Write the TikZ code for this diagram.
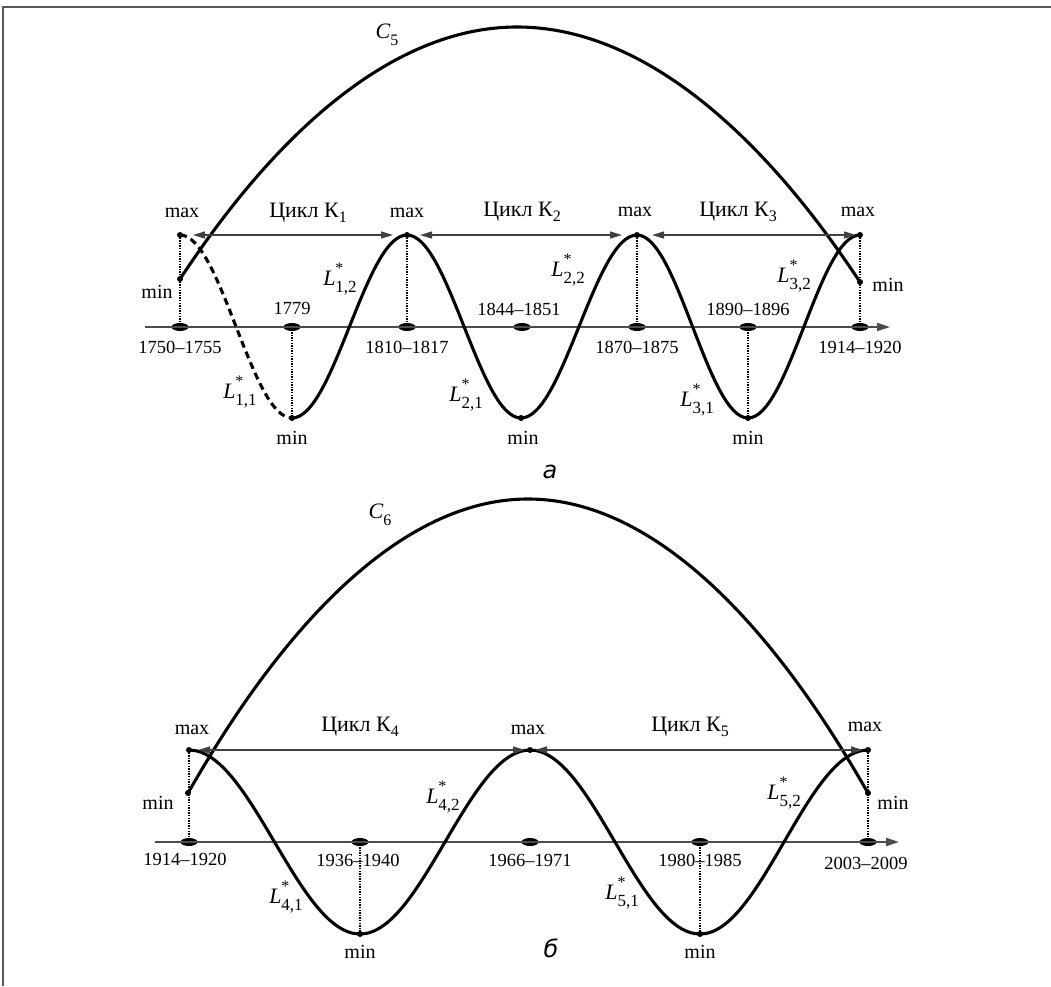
\documentclass[tikz,border=0pt]{standalone}
\usepackage{fontspec}
\setmainfont{Liberation Serif}
\newfontfamily\sansf{DejaVu Sans}
\usetikzlibrary{arrows.meta,shapes.geometric,calc}
\newcommand\Lbl[1]{\textit{L}\rlap{\raisebox{0.55em}{\fontsize{16}{16}\selectfont *}}\raisebox{-0.3em}{\fontsize{17}{17}\selectfont #1}}
\newcommand\Cyc[1]{Цикл К\raisebox{-0.25em}{\fontsize{16}{16}\selectfont #1}}
\newcommand\Cl[1]{\textit{C}\raisebox{-0.3em}{\fontsize{16}{16}\selectfont #1}}
\tikzset{
 curve/.style={line width=3.1pt, black},
 dashcurve/.style={line width=3.1pt, black, dash pattern=on 7pt off 4.5pt},
 axisline/.style={line width=1.8pt, black!70, -{Triangle[length=13pt,width=8pt]}},
 cycarrow/.style={line width=1.3pt, black!75, {Triangle[length=12pt,width=7pt]}-{Triangle[length=12pt,width=7pt]}},
 drop/.style={line width=1.3pt, black, dash pattern=on 1.3pt off 1.3pt},
 axdot/.style={ellipse, fill=black, minimum width=17pt, minimum height=8pt, inner sep=0pt},
 pt/.style={circle, fill=black, minimum size=6pt, inner sep=0pt},
 yr/.style={font=\fontsize{18.5}{20}\selectfont, inner sep=0pt},
 mm/.style={font=\fontsize{20}{22}\selectfont, inner sep=0pt},
 cyc/.style={font=\fontsize{22}{24}\selectfont, inner sep=0pt},
 lab/.style={font=\fontsize{22}{24}\selectfont, inner sep=0pt},
 panel/.style={font=\sansf\itshape\fontsize{24}{26}\selectfont, inner sep=0pt},
 frame/.style={line width=2pt, black!65},
}
\begin{document}
\begin{tikzpicture}[x=1pt,y=-1pt]
\useasboundingbox (0,0) rectangle (1051,986);
\fill[white] (0,0) rectangle (1051,986);
\draw[frame] (3,986) -- (3,7) -- (1051,7);

% ---------------- panel a ----------------
\coordinate (aM0) at (180,235);
\coordinate (aN0) at (180,279);
\coordinate (aMin1) at (292,418);
\coordinate (aM1) at (407,235);
\coordinate (aMin2) at (521,418);
\coordinate (aM2) at (637,235);
\coordinate (aMin3) at (748,418);
\coordinate (aM3) at (860,235);
\coordinate (aN3) at (860,282);
\coordinate (aTop) at (517,27);
\coordinate (aAx0) at (145,327);
\coordinate (aAx1) at (890,327);

\node[axdot] (a1750) at (180,327) {};
\node[axdot] (a1779) at (292,327) {};
\node[axdot] (a1810) at (407,327) {};
\node[axdot] (a1844) at (522,327) {};
\node[axdot] (a1870) at (637,327) {};
\node[axdot] (a1890) at (748,327) {};
\node[axdot] (a1914) at (860,327) {};

\draw[drop] (aM0) -- (a1750.center);
\draw[drop] (a1779.center) -- (aMin1);
\draw[drop] (aM1) -- (a1810.center);
\draw[drop] (aM2) -- (a1870.center);
\draw[drop] (a1890.center) -- (aMin3);
\draw[drop] (aM3) -- (a1914.center);

\draw[axisline] (aAx0) -- (aAx1);

\draw[curve] (aN0) parabola bend (aTop) (aN3);
\draw[dashcurve] (aM0) cos ($(aM0)!0.5!(aMin1)$) sin (aMin1);
\draw[curve] (aMin1) cos ($(aMin1)!0.5!(aM1)$) sin (aM1)
  cos ($(aM1)!0.5!(aMin2)$) sin (aMin2)
  cos ($(aMin2)!0.5!(aM2)$) sin (aM2)
  cos ($(aM2)!0.5!(aMin3)$) sin (aMin3)
  cos ($(aMin3)!0.5!(aM3)$) sin (aM3);

\draw[cycarrow, shorten <=13pt, shorten >=14pt] (aM0) -- (aM1);
\draw[cycarrow, shorten <=13pt, shorten >=15pt] (aM1) -- (aM2);
\draw[cycarrow, shorten <=15pt, shorten >=4pt] (aM2) -- (aM3);

\node[pt] (paM0) at (aM0) {};
\node[pt] (paN0) at (aN0) {};
\node[pt] (paMin1) at (aMin1) {};
\node[pt] (paM1) at (aM1) {};
\node[pt] (paMin2) at (aMin2) {};
\node[pt] (paM2) at (aM2) {};
\node[pt] (paMin3) at (aMin3) {};
\node[pt] (paM3) at (aM3) {};
\node[pt] (paN3) at (aN3) {};

\node[lab] (aC) at (387,35) {\Cl{5}};
\node[mm] (amx0) at (182,213) {max};
\node[mm] (amx1) at (407,213) {max};
\node[mm] (amx2) at (635,212) {max};
\node[mm] (amx3) at (858,212) {max};
\node[cyc] (ak1) at (308,213) {\Cyc{1}};
\node[cyc] (ak2) at (522,212) {\Cyc{2}};
\node[cyc] (ak3) at (738,212) {\Cyc{3}};
\node[mm] (amn0) at (157,292) {min};
\node[mm] (amn4) at (888,285) {min};
\node[mm] (amn1) at (292,438) {min};
\node[mm] (amn2) at (523,438) {min};
\node[mm] (amn3) at (748,438) {min};
\node[yr] (ay1) at (180,347) {1750–1755};
\node[yr] (ay2) at (292,308) {1779};
\node[yr] (ay3) at (407,347) {1810–1817};
\node[yr] (ay4) at (519,309) {1844–1851};
\node[yr] (ay5) at (637,347) {1870–1875};
\node[yr] (ay6) at (748,309) {1890–1896};
\node[yr] (ay7) at (860,347) {1914–1920};
\node[lab] (aL11) at (240,392) {\Lbl{1,1}};
\node[lab] (aL12) at (340,279) {\Lbl{1,2}};
\node[lab] (aL21) at (466,395) {\Lbl{2,1}};
\node[lab] (aL22) at (568,270) {\Lbl{2,2}};
\node[lab] (aL31) at (697,400) {\Lbl{3,1}};
\node[lab] (aL32) at (794,276) {\Lbl{3,2}};
\node[panel] (pa) at (550,472) {а};

% ---------------- panel b ----------------
\coordinate (bM0) at (189,750);
\coordinate (bN0) at (188,793);
\coordinate (bMin1) at (360,934);
\coordinate (bM1) at (530,750);
\coordinate (bMin2) at (700,934);
\coordinate (bM2) at (868,750);
\coordinate (bN2) at (868,793);
\coordinate (bTop) at (528,499);
\coordinate (bAx0) at (155,842);
\coordinate (bAx1) at (899,842);

\node[axdot] (b1914) at (189,842) {};
\node[axdot] (b1936) at (360,842) {};
\node[axdot] (b1966) at (530,842) {};
\node[axdot] (b1980) at (700,842) {};
\node[axdot] (b2003) at (868,842) {};

\draw[drop] (bM0) -- (b1914.center);
\draw[drop] (b1936.center) -- (bMin1);
\draw[drop] (b1980.center) -- (bMin2);
\draw[drop] (bM2) -- (b2003.center);

\draw[axisline] (bAx0) -- (bAx1);

\draw[curve] (bN0) parabola bend (bTop) (bN2);
\draw[curve] (bM0) cos ($(bM0)!0.5!(bMin1)$) sin (bMin1)
  cos ($(bMin1)!0.5!(bM1)$) sin (bM1)
  cos ($(bM1)!0.5!(bMin2)$) sin (bMin2)
  cos ($(bMin2)!0.5!(bM2)$) sin (bM2);

\draw[cycarrow, shorten <=9pt, shorten >=5pt] (bM0) -- (bM1);
\draw[cycarrow, shorten <=5pt, shorten >=5pt] (bM1) -- (bM2);

\node[pt] (pbM0) at (bM0) {};
\node[pt] (pbN0) at (bN0) {};
\node[pt] (pbMin1) at (bMin1) {};
\node[pt] (pbM1) at (bM1) {};
\node[pt] (pbMin2) at (bMin2) {};
\node[pt] (pbM2) at (bM2) {};
\node[pt] (pbN2) at (bN2) {};

\node[lab] (bC) at (380,515) {\Cl{6}};
\node[mm] (bmx0) at (192,730) {max};
\node[mm] (bmx1) at (528,730) {max};
\node[mm] (bmx2) at (865,727) {max};
\node[cyc] (bk4) at (360,727) {\Cyc{4}};
\node[cyc] (bk5) at (690,727) {\Cyc{5}};
\node[mm] (bmn0) at (158,803) {min};
\node[mm] (bmn3) at (893,803) {min};
\node[mm] (bmn1) at (360,952) {min};
\node[mm] (bmn2) at (700,952) {min};
\node[yr] (by1) at (185,859) {1914–1920};
\node[yr] (by2) at (358,860) {1936–1940};
\node[yr] (by3) at (530,860) {1966–1971};
\node[yr] (by4) at (700,860) {1980–1985};
\node[yr] (by5) at (866,863) {2003–2009};
\node[lab] (bL41) at (286,897) {\Lbl{4,1}};
\node[lab] (bL42) at (443,797) {\Lbl{4,2}};
\node[lab] (bL51) at (622,893) {\Lbl{5,1}};
\node[lab] (bL52) at (784,793) {\Lbl{5,2}};
\node[panel] (pb) at (551,948) {б};
\end{tikzpicture}
\end{document}
